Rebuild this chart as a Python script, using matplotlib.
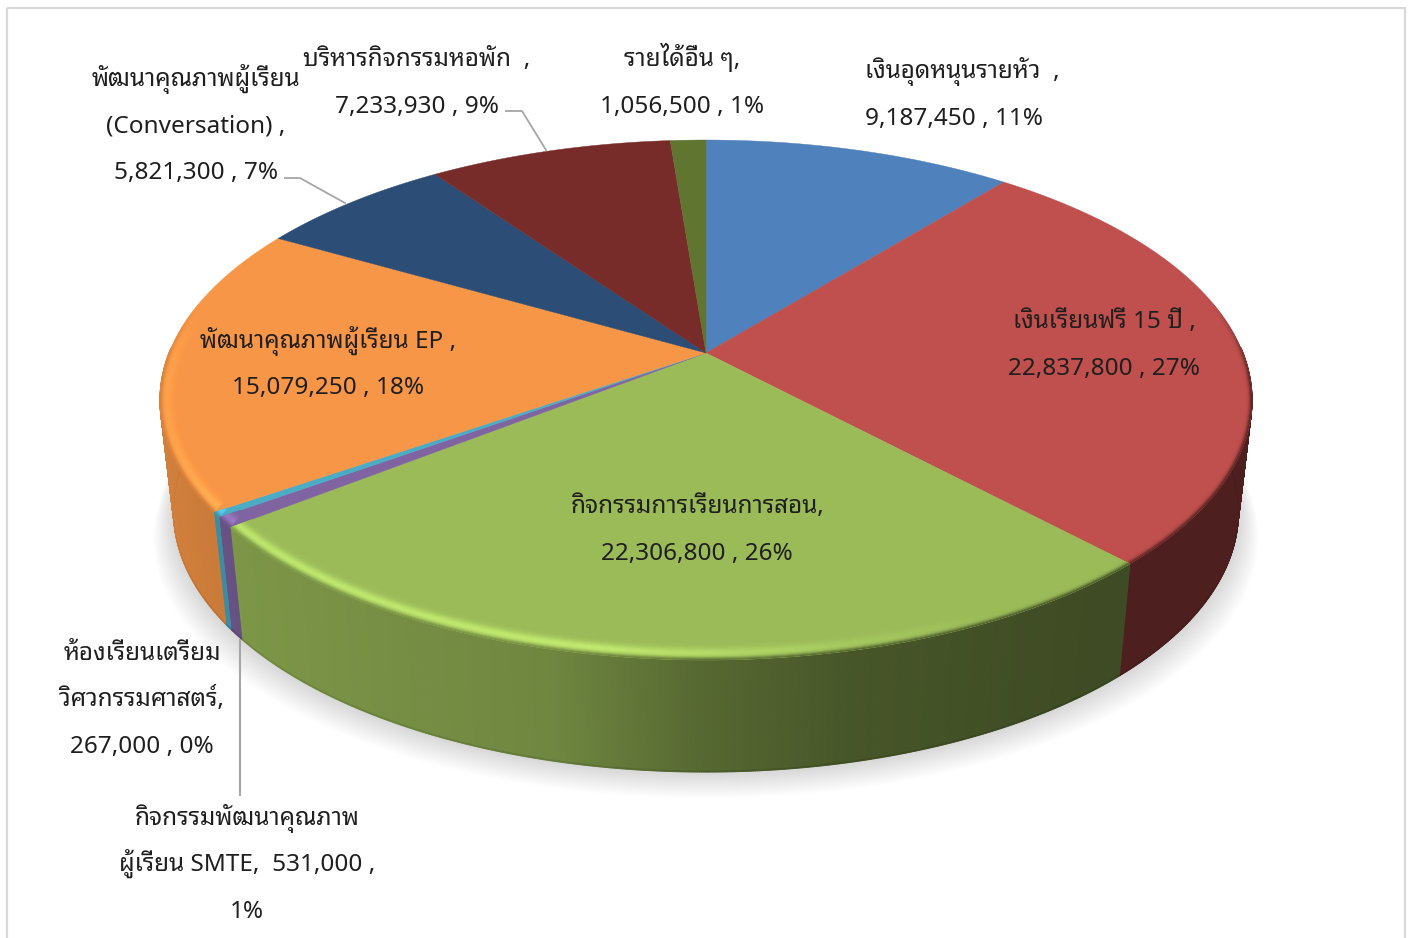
import numpy as np
import matplotlib
matplotlib.use('Agg')
import matplotlib.pyplot as plt
from matplotlib.colors import to_rgb
from matplotlib.collections import PolyCollection
from matplotlib.patches import Polygon, Rectangle

plt.rcParams['font.family'] = ['Noto Sans', 'Noto Sans Thai Looped', 'Open Sans', 'DejaVu Sans']

values = [9187450, 22837800, 22306800, 531000, 267000, 15079250, 5821300, 7233930, 1056500]
colors = ['#4F81BD', '#C0504D', '#9BBB59', '#8064A2', '#4BACC6', '#F79646', '#2C4D75', '#772C2A', '#5F7530']
name_lines = [
    ['เงินอุดหนุนรายหัว  ,'],
    ['เงินเรียนฟรี 15 ปี ,'],
    ['กิจกรรมการเรียนการสอน,'],
    ['กิจกรรมพัฒนาคุณภาพ'],
    ['ห้องเรียนเตรียม', 'วิศวกรรมศาสตร์,'],
    ['พัฒนาคุณภาพผู้เรียน EP ,'],
    ['พัฒนาคุณภาพผู้เรียน', '(Conversation) ,'],
    ['บริหารกิจกรรมหอพัก  ,'],
    ['รายได้อื่น ๆ,'],
]
# where each label block sits: left/centre x, centre y of the lines
label_pos = [
    (865, [69, 116]),
    (1104, [319, 366]),
    (697, [504, 551]),
    (247, [816, 862, 909]),
    (142, [651, 697, 744]),
    (328, [339, 385]),
    (196, [77, 123, 170]),
    (417, [57, 104]),
    (682, [57, 104]),
]

# picture geometry of the tilted pie
cx, cy = 706, 353
persp, ky, kx = 0.1808, 251.5, 537.0
ell_cy, ell_rx, ell_ry = 400, 546, 260
depth = 112
shrink = 0.975
rim = 20


def project(t):
    u, v = np.cos(t), np.sin(t)
    w = 1 + persp * v
    return cx + kx * u / w, cy - ky * v / w


def side_factor(x):
    return np.interp(x, [160, 240, 550, 700, 850, 1100, 1252], [0.85, 0.8, 0.72, 0.56, 0.46, 0.40, 0.40])


def glow(x):
    return np.interp(x, [160, 240, 600, 850, 1000], [0.08, 0.24, 0.26, 0.08, 0.0])


fig = plt.figure(figsize=(14.1, 9.38), dpi=100)

# the pie itself only gives the slice angles here, the faces are projected below
pie_ax = fig.add_axes([0, 0, 0.1, 0.1])
wedges, _ = pie_ax.pie(values, startangle=90, counterclock=False)
pie_ax.set_visible(False)

ax = fig.add_axes([0, 0, 1, 1])
ax.set_xlim(0, 1410)
ax.set_ylim(938, 0)
ax.axis('off')

ax.add_patch(Rectangle((7, 8), 1398, 1000, fill=False, edgecolor='#d9d9d9', lw=1.6, zorder=1))

# soft shadow under the pie
tt = np.linspace(0, 2 * np.pi, 400)
sx, sy = project(tt)
for k in range(14):
    f = shrink + 0.0028 * k
    ax.fill(cx + (sx - cx) * f, sy + depth + 2.0 * k, color='k', alpha=0.012, lw=0, zorder=2)

for wedge, col in zip(wedges, colors):
    base = np.array(to_rgb(col))
    t = np.radians(np.linspace(wedge.theta1, wedge.theta2, max(int(wedge.theta2 - wedge.theta1) * 6, 12)))
    x, y = project(t)
    xb = cx + (x - cx) * shrink
    yb = y + depth

    # side wall, darker towards the right
    seg = [i for i in range(len(t) - 1) if np.sin(t[i]) < 0.02 or np.sin(t[i + 1]) < 0.02]
    if seg:
        quads = [[(x[i], y[i]), (x[i + 1], y[i + 1]), (xb[i + 1], yb[i + 1]), (xb[i], yb[i])] for i in seg]
        qcol = [base * side_factor((x[i] + x[i + 1]) / 2) for i in seg]
        ax.add_collection(PolyCollection(quads, facecolors=qcol, edgecolors=qcol, linewidths=0.8, zorder=3))
        low = [[(xb[i], yb[i] - 1.4), (xb[i + 1], yb[i + 1] - 1.4), (xb[i + 1], yb[i + 1]), (xb[i], yb[i])] for i in seg]
        ax.add_collection(PolyCollection(low, facecolors=[c * 0.88 for c in qcol], edgecolors='none', zorder=3.1))

    # top face
    face = Polygon(np.column_stack([np.r_[cx, x], np.r_[cy, y]]), closed=True,
                   facecolor=col, edgecolor=col, lw=0.3, zorder=4)
    ax.add_patch(face)

    # rounded rim along the front of the top face, kept inside its own slice
    nx, ny = -(x - cx) / ell_rx ** 2, -(y - ell_cy) / ell_ry ** 2
    nn = np.hypot(nx, ny)
    nx, ny = nx / nn, ny / nn
    bands = np.linspace(0, rim, rim + 1)
    quads, qcol = [], []
    for i in range(len(t) - 1):
        if np.sin(t[i]) > 0.2 and np.sin(t[i + 1]) > 0.2:
            continue
        xm = (x[i] + x[i + 1]) / 2
        fade = np.clip((0.2 - np.sin(t[i])) / 0.3, 0, 1)
        side = base * side_factor(xm)
        for d0, d1 in zip(bands[:-1], bands[1:]):
            s = (d0 + d1) / 2 / rim
            c = np.clip(base * (1 + glow(xm) * np.exp(-((s - 0.36) / 0.26) ** 2)), 0, 1)
            c = c + (side - c) * 0.9 * np.exp(-(s / 0.14) ** 2)
            c = base + (c - base) * fade
            quads.append([(x[i] + nx[i] * d0, y[i] + ny[i] * d0),
                          (x[i + 1] + nx[i + 1] * d0, y[i + 1] + ny[i + 1] * d0),
                          (x[i + 1] + nx[i + 1] * d1, y[i + 1] + ny[i + 1] * d1),
                          (x[i] + nx[i] * d1, y[i] + ny[i] * d1)])
            qcol.append(np.clip(c, 0, 1))
    if quads:
        rim_band = PolyCollection(quads, facecolors=qcol, edgecolors=qcol, linewidths=0.3, zorder=5)
        ax.add_collection(rim_band)
        rim_band.set_clip_path(face)

# leader lines
ax.plot([240, 240], [640, 795], color='#a6a6a6', lw=1.5, zorder=6)
ax.plot([285, 300, 345], [178, 178, 203], color='#a6a6a6', lw=1.3, zorder=6)
ax.plot([506, 522, 546], [111, 111, 150], color='#a6a6a6', lw=1.3, zorder=6)

# labels
total = sum(values)
for i, val in enumerate(values):
    lines = list(name_lines[i])
    pct = round(val / total * 100)
    if i == 3:
        lines += ['ผู้เรียน SMTE,  {:,} ,'.format(val), '{}%'.format(pct)]
    else:
        lines.append('{:,} , {}%'.format(val, pct))
    xc, ys = label_pos[i]
    for line, yc in zip(lines, ys):
        ax.text(xc, yc + 9, line, ha='left' if i == 0 else 'center', va='baseline',
                fontsize=17.5, color='#1f1f1f', zorder=7)

fig.savefig('out.png', dpi=100)
